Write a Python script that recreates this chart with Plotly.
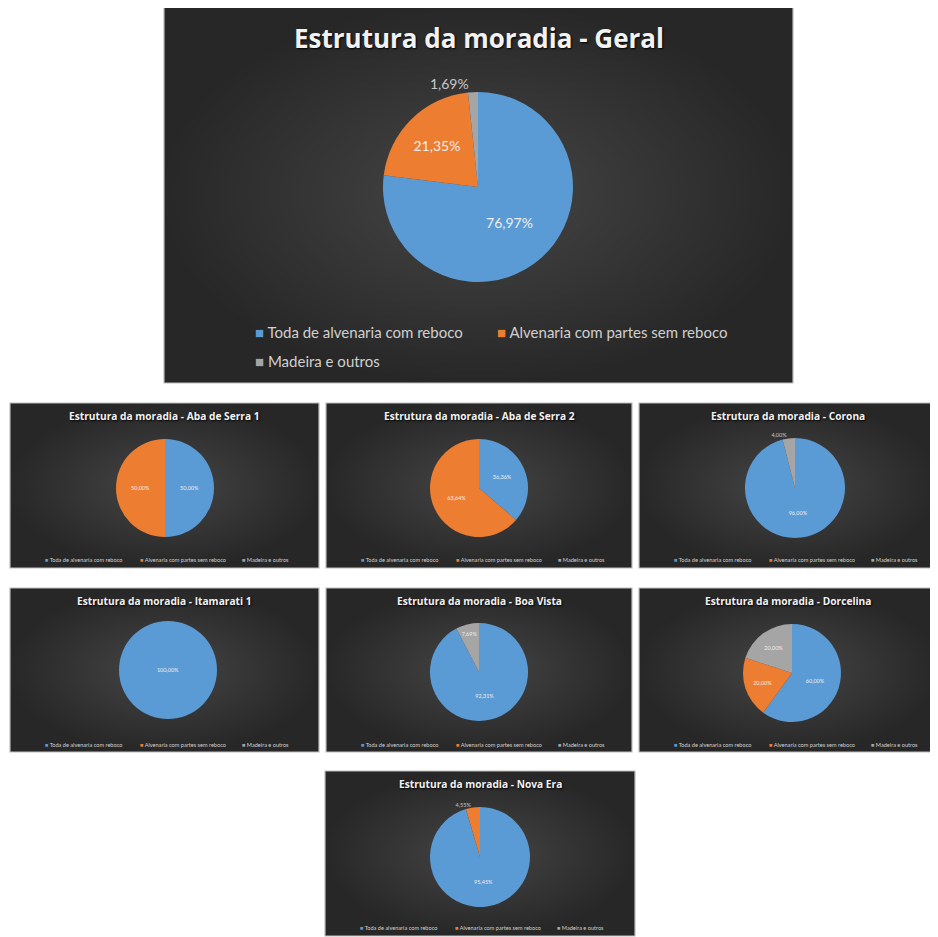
import plotly.graph_objects as go

# ---------------- data ----------------
categories = ["Toda de alvenaria com reboco", "Alvenaria com partes sem reboco", "Madeira e outros"]
chart_names = ["Geral", "Aba de Serra 1", "Aba de Serra 2", "Corona",
               "Itamarati 1", "Boa Vista", "Dorcelina", "Nova Era"]
geral = [76.97, 21.35, 1.69]
aba_de_serra_1 = [50.00, 50.00, 0.00]
aba_de_serra_2 = [36.36, 63.64, 0.00]
corona = [96.00, 0.00, 4.00]
itamarati_1 = [100.00, 0.00, 0.00]
boa_vista = [92.31, 0.00, 7.69]
dorcelina = [60.00, 20.00, 20.00]
nova_era = [95.45, 4.55, 0.00]
series = [geral, aba_de_serra_1, aba_de_serra_2, corona,
          itamarati_1, boa_vista, dorcelina, nova_era]

colors = ["#5B9BD5", "#ED7D31", "#A5A5A5"]

# ---------------- layout (page pixels) ----------------
W, H = 938, 937
OFF = 8  # page body margin around the plot div
panels = [
    dict(box=(164, 5, 793, 383), pie=(478, 187, 95), big=True),
    dict(box=(10, 403, 319, 568), pie=(165, 488, 49)),
    dict(box=(326, 403, 632, 568), pie=(479, 488, 49)),
    dict(box=(639, 403, 937, 568), pie=(795, 488, 50)),
    dict(box=(10, 588, 319, 752), pie=(168, 670, 49)),
    dict(box=(326, 588, 632, 752), pie=(479, 672, 49)),
    dict(box=(639, 588, 937, 752), pie=(792, 673, 49)),
    dict(box=(325, 771, 635, 936), pie=(480, 857, 50)),
]


def px(x):
    return (x - OFF) / W


def py(y):
    return 1 - (y - OFF) / H


FONT = "Lato"
TFONT = "Open Sans"
fig = go.Figure()
shapes = []
annotations = []

for name, vals, p in zip(chart_names, series, panels):
    x0, y0, x1, y1 = p["box"]
    big = p.get("big", False)
    shapes.append(dict(type="rect", xref="paper", yref="paper",
                       x0=px(x0), x1=px(x1), y0=py(y1), y1=py(y0),
                       fillcolor="#272727", line=dict(color="#bdbdbd", width=1.2),
                       layer="below"))
    mx, my = (x0 + x1) / 2, (y0 + y1) / 2
    hw, hh = (x1 - x0) / 2, (y1 - y0) / 2
    n = 30
    for k in range(n):
        s = 1.0 - k / n
        shapes.append(dict(type="circle", xref="paper", yref="paper",
                           x0=px(mx - hw * s), x1=px(mx + hw * s),
                           y0=py(my + hh * s), y1=py(my - hh * s),
                           fillcolor="rgba(255,255,255,0.0088)", line=dict(width=0),
                           layer="below"))

    cx, cy, r = p["pie"]
    fs_lbl = 14 if big else 5.5
    texts = [("%{value:.2f}%" if v > 0 else "") for v in vals]
    pos = [("outside" if v < 5 else "inside") for v in vals]
    fig.add_trace(go.Pie(
        labels=categories, values=vals, sort=False, direction="clockwise",
        rotation=0, showlegend=False,
        marker=dict(colors=colors, line=dict(color="rgba(0,0,0,0)", width=0)),
        texttemplate=texts, textposition=pos,
        insidetextorientation="horizontal",
        insidetextfont=dict(family=FONT, size=fs_lbl, color="#eeeeee"),
        outsidetextfont=dict(family=FONT, size=fs_lbl, color="#c8c8c8"),
        hoverinfo="label+value",
        domain=dict(x=[px(cx - r), px(cx + r)], y=[py(cy + r), py(cy - r)]),
    ))

    title_y = y0 + (33 if big else 13)
    annotations.append(dict(
        x=px(mx), y=py(title_y), xref="paper", yref="paper",
        text="<b>Estrutura da moradia - " + name + "</b>", showarrow=False,
        xanchor="center", yanchor="middle",
        font=dict(family=TFONT, size=26 if big else 10.2, color="#f2f2f2",
                  shadow="1px 1px 2px #000000"),
    ))

    if big:
        leg = [(253, 332), (495, 332), (253, 361)]
        fs = 15
    else:
        leg = [(x0 + 33, y0 + 156), (x0 + 128, y0 + 156), (x0 + 230, y0 + 156)]
        fs = 5.6
    for (lx, ly), cat, col in zip(leg, categories, colors):
        annotations.append(dict(
            x=px(lx), y=py(ly), xref="paper", yref="paper", showarrow=False,
            xanchor="left", yanchor="middle",
            text="<span style='color:%s'>■</span> %s" % (col, cat),
            font=dict(family=FONT, size=fs, color="#d0d0d0"),
        ))

fig.update_layout(
    width=W, height=H, margin=dict(l=0, r=0, t=0, b=0),
    paper_bgcolor="#ffffff", plot_bgcolor="#ffffff",
    separators=",.",
    shapes=shapes, annotations=annotations,
    font=dict(family=FONT),
)

fig.write_html("out.html")
